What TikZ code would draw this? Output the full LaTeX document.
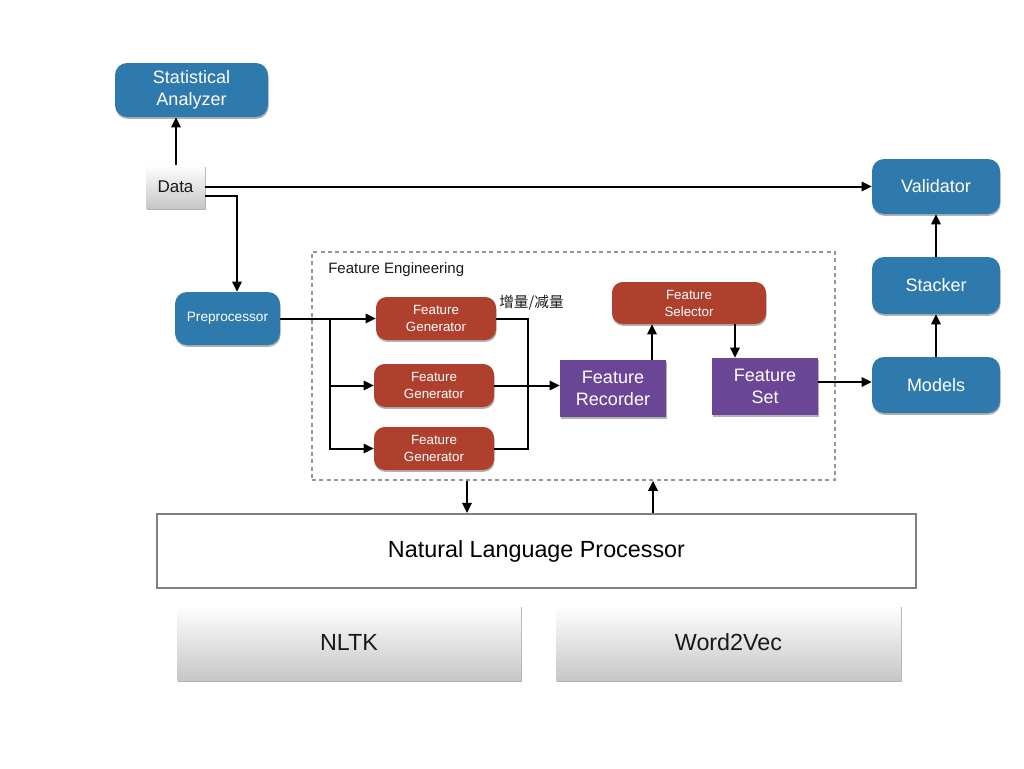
\documentclass[tikz,border=0pt]{standalone}
\usepackage{fontspec}
\setmainfont{Liberation Sans}
\newfontfamily\cjk{Noto Sans CJK SC}
\usetikzlibrary{arrows.meta,shadows}
\definecolor{bluebox}{RGB}{47,122,172}
\definecolor{redbox}{RGB}{176,64,46}
\definecolor{purplebox}{RGB}{108,70,150}
\definecolor{dashgray}{RGB}{150,150,150}
\definecolor{nlpgray}{RGB}{128,128,128}
\newcommand\fsz[2]{\fontsize{#1}{#2}\selectfont}
\begin{document}
\begin{tikzpicture}[x=0.75pt,y=-0.75pt,
  shad/.style={drop shadow={shadow xshift=0.4pt,shadow yshift=-1.4pt,opacity=0.3,fill=black}},
  bluebx/.style={rounded corners=9pt,fill=bluebox,text=white,align=center,inner sep=0pt,shad,font=\fsz{13.5}{16.5}},
  redbx/.style={rounded corners=8pt,fill=redbox,text=white,align=center,inner sep=0pt,shad,font=\fsz{10}{12.75}},
  purplebx/.style={fill=purplebox,text=white,align=center,inner sep=0pt,shad,font=\fsz{13.5}{16.5}},
  graybx/.style={top color=white,bottom color=black!22,text=black!90,align=center,inner sep=0pt,shad},
  arr/.style={line width=1.5pt,-{Triangle[length=7.5pt,width=7pt]}},
  ln/.style={line width=1.5pt}
]
\useasboundingbox (0,0) rectangle (1024,768);

% nodes
\node[bluebx,minimum width=153*0.75pt,minimum height=54*0.75pt] (stat) at (191.5,90) {Statistical\\Analyzer};
\node[graybx,minimum width=59*0.75pt,minimum height=43*0.75pt,font=\fsz{12.75}{15}] (data) at (175.5,186.5) {Data};
\node[bluebx,minimum width=128*0.75pt,minimum height=55*0.75pt] (validator) at (936,186.5) {Validator};
\node[bluebx,minimum width=128*0.75pt,minimum height=57*0.75pt] (stacker) at (936,285.5) {Stacker};
\node[bluebx,minimum width=128*0.75pt,minimum height=56*0.75pt] (models) at (936,385) {Models};
\node[bluebx,minimum width=105*0.75pt,minimum height=53*0.75pt,font=\fsz{10.25}{12.5}] (pre) at (227.5,318.5) {Preprocessor};

\node[draw=dashgray,dash pattern=on 3pt off 2.5pt,line width=1.3pt,minimum width=523*0.75pt,minimum height=228*0.75pt,inner sep=0pt] (fe) at (573.5,366) {};
\node[anchor=base west,inner sep=0pt,font=\fsz{11.25}{13},text=black!90] (felabel) at (328,273) {Feature Engineering};

\node[redbx,minimum width=120*0.75pt,minimum height=43*0.75pt] (fg1) at (436,318.5) {Feature\\Generator};
\node[redbx,minimum width=120*0.75pt,minimum height=43*0.75pt] (fg2) at (434,385.5) {Feature\\Generator};
\node[redbx,minimum width=120*0.75pt,minimum height=43*0.75pt] (fg3) at (434,448.5) {Feature\\Generator};
\node[anchor=base west,inner sep=0pt,font=\cjk\fsz{11}{13},text=black!90] (zl) at (499,307) {增量/减量};

\node[redbx,minimum width=154*0.75pt,minimum height=42*0.75pt] (sel) at (689,303) {Feature\\Selector};
\node[purplebx,minimum width=106*0.75pt,minimum height=57*0.75pt] (rec) at (613,388.5) {Feature\\Recorder};
\node[purplebx,minimum width=106*0.75pt,minimum height=57*0.75pt] (set) at (765,386.5) {Feature\\Set};

\node[draw=nlpgray,line width=1.6pt,fill=white,minimum width=759*0.75pt,minimum height=74*0.75pt,inner sep=0pt,font=\fsz{17.5}{20}] (nlp) at (536.5,551) {Natural Language Processor};
\node[graybx,minimum width=344*0.75pt,minimum height=75*0.75pt,font=\fsz{17.5}{20}] (nltk) at (349,642.5) {NLTK};
\node[graybx,minimum width=345*0.75pt,minimum height=75*0.75pt,font=\fsz{17.5}{20}] (w2v) at (728.5,642.5) {Word2Vec};

% connectors
\coordinate (du) at (176,0);
\draw[arr] (data.north -| du) -- (stat.south -| du);
\draw[arr] (data.east) -- (validator.west);
\coordinate (dp) at (237,196);
\draw[arr] (data.east |- dp) -- (dp) -- (dp |- pre.north);

\coordinate (sp) at (330,318.5);
\draw[ln] (pre.east) -- (sp);
\draw[arr] (sp) -- (fg1.west);
\draw[arr] (sp) -- (sp |- fg3) -- (fg3.west);
\draw[arr] (sp |- fg2) -- (fg2.west);

\coordinate (mg) at (528,385.5);
\draw[ln] (fg1.east) -| (mg);
\draw[ln] (fg3.east) -| (mg);
\draw[arr] (fg2.east) -- (fg2.east -| rec.west);

\coordinate (ru) at (652,0);
\draw[arr] (rec.north -| ru) -- (sel.south -| ru);
\coordinate (sd) at (735,0);
\draw[arr] (sel.south -| sd) -- (set.north -| sd);
\coordinate (sm) at (0,382);
\draw[arr] (set.east |- sm) -- (models.west |- sm);
\draw[arr] (models) -- (stacker);
\draw[arr] (stacker) -- (validator);

\coordinate (fa) at (467,0);
\draw[arr] (fe.south -| fa) -- (nlp.north -| fa);
\coordinate (fb) at (653,0);
\draw[arr] (nlp.north -| fb) -- (fe.south -| fb);
\end{tikzpicture}
\end{document}
